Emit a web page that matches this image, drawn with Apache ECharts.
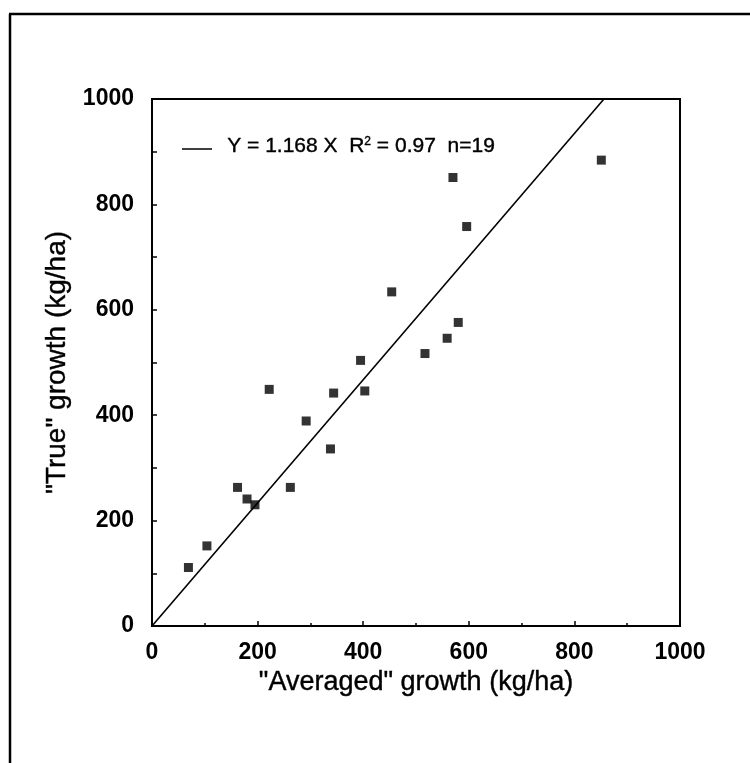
<!DOCTYPE html>
<html>
<head>
<meta charset="utf-8">
<script src="https://cdn.jsdelivr.net/npm/echarts@6/dist/echarts.min.js"></script>
<style>
html,body{margin:0;padding:0;background:#fff;}
#chart{width:750px;height:763px;}
</style>
</head>
<body>
<div id="chart"></div>
<script>
// Data
var averagedGrowth = [69, 104, 162, 180, 195, 222, 262, 292, 338, 344, 395, 403, 517, 559, 454, 570, 596, 580, 851];
var trueGrowth     = [111, 152, 263, 241, 230, 449, 263, 389, 336, 442, 504, 446, 517, 546, 634, 851, 758, 576, 884];
var fitX = [0, 856];
var fitY = [0, 1000];
var xTicks = [0, 200, 400, 600, 800, 1000];
var yTicks = [0, 200, 400, 600, 800, 1000];
var xTitle = '"Averaged" growth (kg/ha)';
var yTitle = '"True" growth (kg/ha)';
var fitLabel = 'Y = 1.168 X  R{sup|2} = 0.97  n=19';

var points = averagedGrowth.map(function (x, i) { return [x, trueGrowth[i]]; });
var fitLine = fitX.map(function (x, i) { return [x, fitY[i]]; });

var chart = echarts.init(document.getElementById('chart'));
var tickFont = {fontFamily: 'Liberation Sans', fontWeight: 'bold', fontSize: 23, color: '#000'};
var xTitleFont = {fontFamily: 'Liberation Sans', fontSize: 27, color: '#000', textBorderColor: '#000', textBorderWidth: 0.4};
var yTitleFont = {fontFamily: 'Liberation Sans', fontSize: 28, color: '#000', textBorderColor: '#000', textBorderWidth: 0.4};
chart.setOption({
  animation: false,
  backgroundColor: '#fff',
  graphic: [
    {type: 'line', shape: {x1: 9, y1: 14, x2: 750, y2: 14}, style: {stroke: '#000', lineWidth: 2.5}},
    {type: 'line', shape: {x1: 10, y1: 14, x2: 10, y2: 763}, style: {stroke: '#000', lineWidth: 2.5}},
    {type: 'line', shape: {x1: 182, y1: 149, x2: 212, y2: 149}, style: {stroke: '#000', lineWidth: 1.5}},
    {type: 'text', left: 227, top: 135, style: {
      text: fitLabel, fill: '#000', font: '21px "Liberation Sans"', stroke: '#000', lineWidth: 0.4,
      rich: {sup: {fontSize: 12, fontFamily: 'Liberation Sans', fill: '#000', verticalAlign: 'top', padding: [0, 0, 10, 0]}}
    }}
  ],
  grid: {left: 152, top: 99, right: 70, bottom: 137, show: true, borderColor: '#000', borderWidth: 2},
  xAxis: {
    type: 'value', min: 0, max: 1000, interval: 200,
    name: xTitle, nameLocation: 'middle', nameGap: 42,
    nameTextStyle: xTitleFont,
    axisLine: {show: true, lineStyle: {color: '#000', width: 2}},
    axisTick: {show: true, inside: true, length: 5, lineStyle: {color: '#000', width: 1.5}},
    minorTick: {show: true, splitNumber: 2, length: 3, lineStyle: {color: '#000', width: 1.5}},
    splitLine: {show: false},
    axisLabel: Object.assign({margin: 15, formatter: function (v) { return xTicks.indexOf(v) >= 0 ? String(v) : ''; }}, tickFont)
  },
  yAxis: {
    type: 'value', min: 0, max: 1000, interval: 200,
    name: yTitle, nameLocation: 'middle', nameGap: 78, nameRotate: 90,
    nameTextStyle: yTitleFont,
    axisLine: {show: true, lineStyle: {color: '#000', width: 2}},
    axisTick: {show: true, inside: true, length: 5, lineStyle: {color: '#000', width: 1.5}},
    minorTick: {show: true, splitNumber: 2, length: 5, lineStyle: {color: '#000', width: 1.5}},
    splitLine: {show: false},
    axisLabel: Object.assign({margin: 18, formatter: function (v) { return yTicks.indexOf(v) >= 0 ? String(v) : ''; }}, tickFont)
  },
  series: [
    {
      name: 'fit', type: 'line', data: fitLine, symbol: 'none',
      lineStyle: {color: '#000', width: 1.6}, itemStyle: {color: '#000'}
    },
    {
      name: 'obs', type: 'scatter', data: points, symbol: 'rect', symbolSize: 9,
      itemStyle: {color: '#000'}
    }
  ]
});
</script>
</body>
</html>
